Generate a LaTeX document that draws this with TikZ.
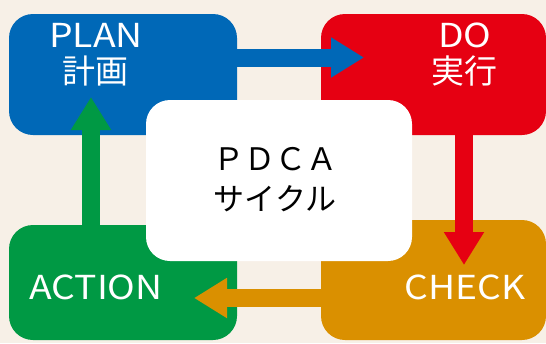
\documentclass[tikz,border=0pt]{standalone}
\usepackage{fontspec}
\setmainfont{Noto Sans CJK JP}
\newfontfamily\latwide[FakeStretch=1.13]{Noto Sans CJK JP}
\usetikzlibrary{arrows.meta}
\definecolor{bg}{HTML}{F7F0E7}
\definecolor{cblue}{HTML}{0068B7}
\definecolor{cred}{HTML}{E60012}
\definecolor{cgreen}{HTML}{009944}
\definecolor{corange}{HTML}{DA9000}
\tikzset{
  box/.style={rounded corners=24pt, inner sep=0pt},
  lbl/.style={inner sep=0pt, anchor=base, text=white, font=\fontsize{33}{33}\selectfont},
  latlbl/.style={lbl, font=\latwide\fontsize{33}{33}\selectfont},
  ctr/.style={inner sep=0pt, anchor=base, text=black, font=\fontsize{31}{31}\selectfont},
  flow/.style={line width=18pt, -{Triangle[length=33pt,width=38pt]}}
}
\begin{document}
\begin{tikzpicture}[x=1pt,y=-1pt]
\fill[bg] (0,0) rectangle (546,343);
\useasboundingbox (0,0) rectangle (546,343);
% boxes
\node[box, fill=cblue, minimum width=228pt, minimum height=121pt] (plan) at (123,74.5) {};
\node[box, fill=cred, minimum width=225pt, minimum height=121pt] (do) at (433.5,74.5) {};
\node[box, fill=cgreen, minimum width=228pt, minimum height=115pt] (act) at (123,282.5) {};
\node[box, fill=corange, minimum width=225pt, minimum height=120pt] (chk) at (433.5,280) {};
% arrow tips
\coordinate (t1) at (364,57.5);
\coordinate (t2) at (464,265);
\coordinate (t3) at (194,298);
\coordinate (t4) at (91,97);
\draw[flow, cblue] (plan.east |- t1) -- (t1);
\draw[flow, cred] (do.south -| t2) -- (t2);
\draw[flow, corange] (chk.west |- t3) -- (t3);
\draw[flow, cgreen] (act.north -| t4) -- (t4);
% centre
\node[box, fill=white, minimum width=266pt, minimum height=161pt] (mid) at (279,180.5) {};
% labels
\node[latlbl] (planA) at (96,47) {PLAN};
\node[lbl] (planB) at (95,83) {計画};
\node[latlbl] (doA) at (465,47) {DO};
\node[lbl] (doB) at (464,83) {実行};
\node[latlbl] (actA) at (96,299) {ACTION};
\node[latlbl] (chkA) at (465,299) {CHECK};
\node[ctr] (midA) at (275,170) {ＰＤＣＡ};
\node[ctr] (midB) at (275,210) {サイクル};
\end{tikzpicture}
\end{document}
